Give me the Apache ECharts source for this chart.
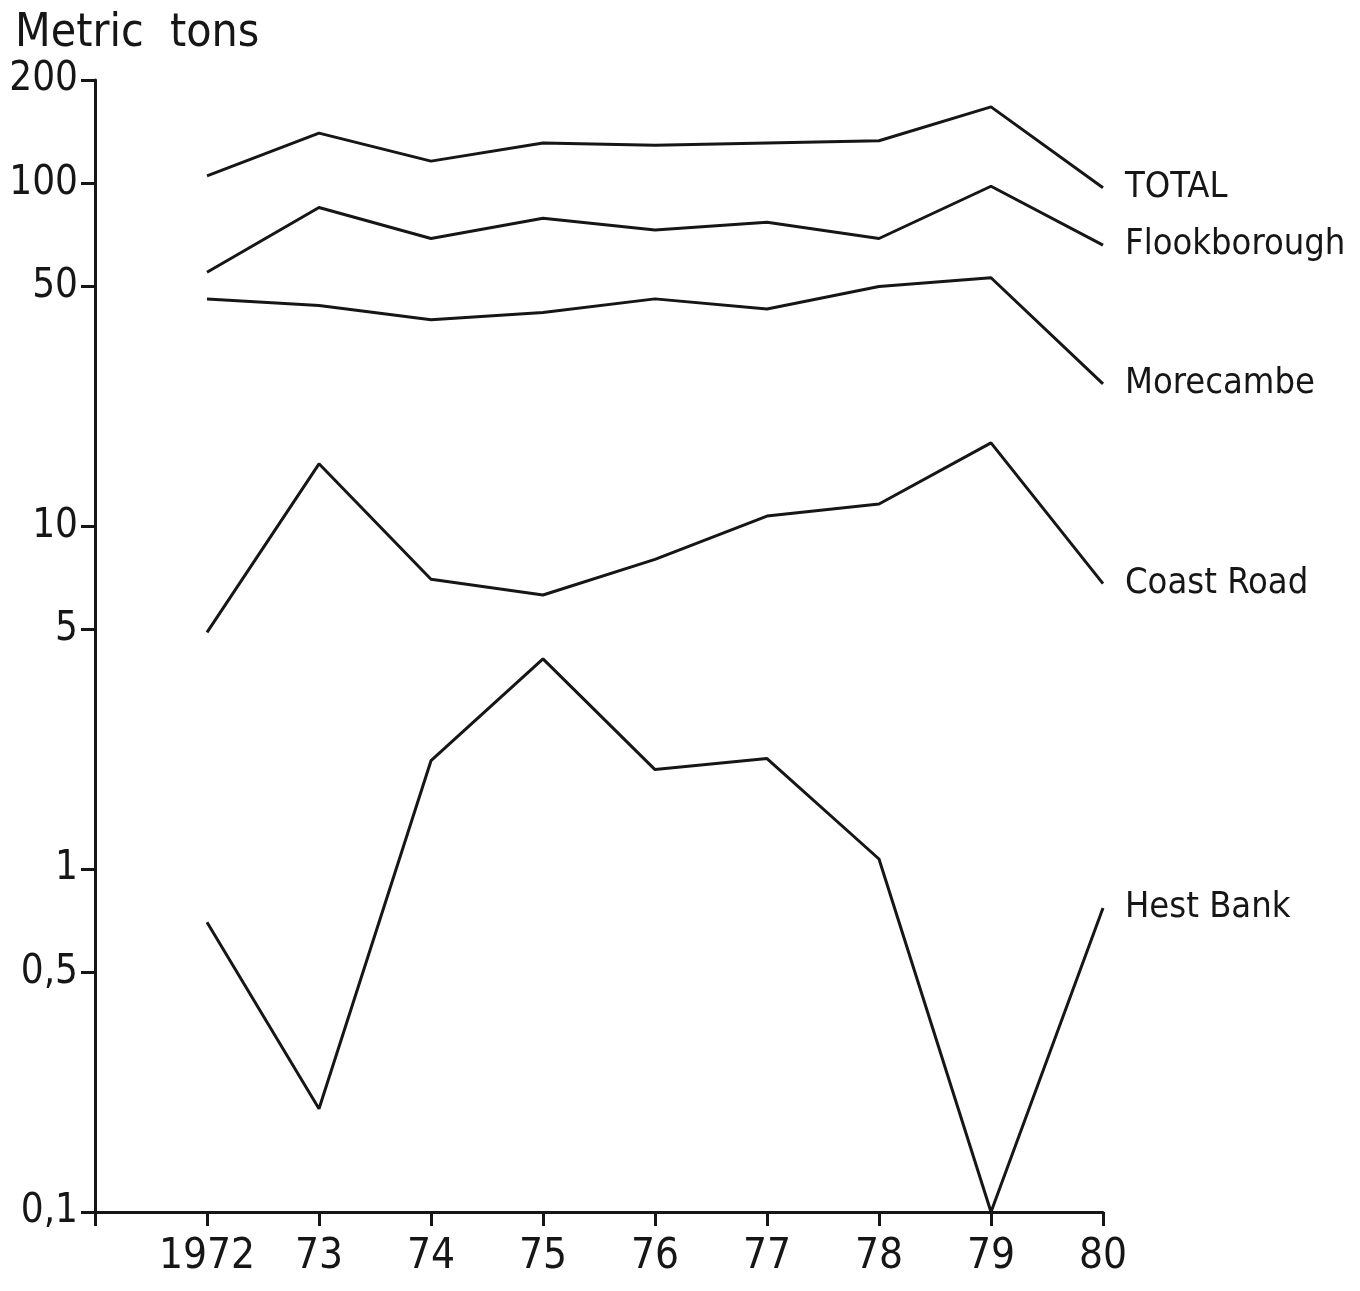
<!DOCTYPE html>
<html>
<head>
<meta charset="utf-8">
<script src="https://cdn.jsdelivr.net/npm/echarts@6/dist/echarts.min.js"></script>
<style>
  html, body { margin: 0; padding: 0; background: #fff; }
  #chart { width: 1360px; height: 1291px; }
</style>
</head>
<body>
<div id="chart"></div>
<script>
// ========= data =========
const years = [1972, 1973, 1974, 1975, 1976, 1977, 1978, 1979, 1980];
const total = [105, 140, 116, 131, 129, 131, 133, 167, 97];
const flookborough = [55, 85, 69, 79, 73, 77, 69, 98, 66];
const morecambe = [46, 44, 40, 42, 46, 43, 50, 53, 26];
const coastRoad = [4.9, 15.2, 7.0, 6.3, 8.0, 10.7, 11.6, 17.5, 6.8];
const hestBank = [0.7, 0.2, 2.07, 4.1, 1.95, 2.1, 1.07, 0.1, 0.77];
const seriesNames = ['TOTAL', 'Flookborough', 'Morecambe', 'Coast Road', 'Hest Bank'];
const yTicks = [0.1, 0.5, 1, 5, 10, 50, 100, 200];

// ========= style =========
const ink = '#161616';
const font = '"Liberation Sans Narrow", "DejaVu Sans Condensed", sans-serif';

function makeSeries(name, values) {
    return {
        name: name,
        type: 'line',
        data: years.map((y, i) => [y, values[i]]),
        showSymbol: false,
        silent: true,
        lineStyle: { color: ink, width: 3 },
        endLabel: {
            show: true,
            formatter: name,
            distance: 22,
            color: ink,
            fontFamily: font,
            fontSize: 36
        }
    };
}

const chart = echarts.init(document.getElementById('chart'));

chart.setOption({
    backgroundColor: '#fff',
    animation: false,
    title: {
        text: 'Metric  tons',
        left: 10,
        top: 6,
        textStyle: { color: ink, fontFamily: font, fontSize: 46, fontWeight: 'normal' }
    },
    grid: { left: 95, right: 257, top: 80, bottom: 79 },
    xAxis: {
        type: 'value',
        min: 1971,
        max: 1980,
        interval: 1,
        splitLine: { show: false },
        axisLine: { lineStyle: { color: ink, width: 3 } },
        axisTick: { length: 14, lineStyle: { color: ink, width: 3 } },
        axisLabel: {
            margin: 24,
            color: ink,
            fontFamily: font,
            fontSize: 42,
            formatter: v => v === 1971 ? '' : (v === 1972 ? '1972' : String(v).slice(2))
        }
    },
    yAxis: {
        type: 'log',
        logBase: 10,
        min: 0.1,
        max: 200,
        splitLine: { show: false },
        axisLine: { show: true, lineStyle: { color: ink, width: 3 } },
        axisTick: { show: true, length: 14, customValues: yTicks, lineStyle: { color: ink, width: 3 } },
        axisLabel: {
            margin: 17,
            customValues: yTicks,
            color: ink,
            fontFamily: font,
            fontSize: 40,
            formatter: v => String(v).replace('.', ',')
        }
    },
    series: [
        makeSeries(seriesNames[0], total),
        makeSeries(seriesNames[1], flookborough),
        makeSeries(seriesNames[2], morecambe),
        makeSeries(seriesNames[3], coastRoad),
        makeSeries(seriesNames[4], hestBank)
    ]
});
</script>
</body>
</html>
